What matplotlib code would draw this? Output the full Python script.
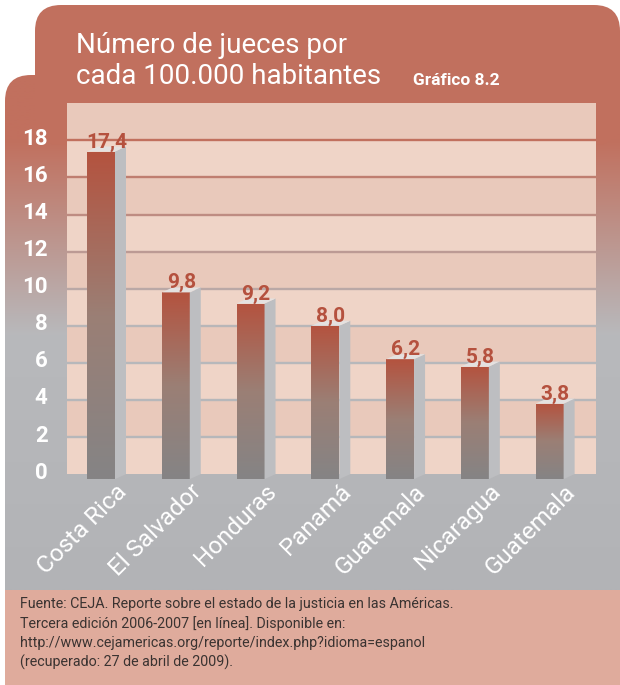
import numpy as np
import matplotlib
matplotlib.use('Agg')
import matplotlib.pyplot as plt
from matplotlib import font_manager
from matplotlib.patches import FancyBboxPatch, Polygon, Rectangle
from matplotlib.colors import LinearSegmentedColormap, to_rgb
from matplotlib.transforms import ScaledTranslation

# data
countries = ['Costa Rica', 'El Salvador', 'Honduras', 'Panamá',
             'Guatemala', 'Nicaragua', 'Guatemala']
jueces = [17.4, 9.8, 9.2, 8.0, 6.2, 5.8, 3.8]
value_labels = ['17,4', '9,8', '9,2', '8,0', '6,2', '5,8', '3,8']
y_ticks = [0, 2, 4, 6, 8, 10, 12, 14, 16, 18]

title_1 = 'Número de jueces por'
title_2 = 'cada 100.000 habitantes'
chart_id = 'Gráfico 8.2'
source = ('Fuente: CEJA. Reporte sobre el estado de la justicia en las Américas.\n'
          'Tercera edición 2006-2007 [en línea]. Disponible en:\n'
          'http://www.cejamericas.org/reporte/index.php?idioma=espanol\n'
          '(recuperado: 27 de abril de 2009).')

# fonts
names = {f.name for f in font_manager.fontManager.ttflist}
FONT = 'Liberation Sans Narrow' if 'Liberation Sans Narrow' in names else 'Roboto'
plt.rcParams['font.family'] = [FONT, 'DejaVu Sans']

# colours
TERRA = np.array(to_rgb('#c1705e'))
GRAY = np.array(to_rgb('#b8b9bc'))
GRAY_LOW = np.array(to_rgb('#b2b3b6'))
BAND_LIGHT = '#efd4c7'
BAND_DARK = '#e9c9bb'
SIDE = '#bdbec1'
TOP = '#e4e1e0'
LABEL_RED = '#b5513e'
bar_cmap = LinearSegmentedColormap.from_list('bar', ['#858485', '#9b7f75', '#b4533f'])

W, H = 620, 685


def panel_color(y):
    # background gradient, pixel y measured from the top
    t = np.clip((y - 140) / (335 - 140), 0, 1)
    c = TERRA * (1 - t) + GRAY * t
    s = np.clip((y - 335) / (590 - 335), 0, 1)
    return c * (1 - s) + GRAY_LOW * s


fig = plt.figure(figsize=(W / 100, H / 100), dpi=100)
fig.patch.set_facecolor('white')

# background shapes in pixel coords
bg = fig.add_axes([0, 0, 1, 1])
bg.set_xlim(0, W)
bg.set_ylim(H, 0)
bg.axis('off')

tab = FancyBboxPatch((35, 5), 585, 140, boxstyle='round,pad=0,rounding_size=26',
                     facecolor=TERRA, edgecolor='none')
bg.add_patch(tab)
panel = FancyBboxPatch((5, 75), 615, 560, boxstyle='round,pad=0,rounding_size=26',
                       facecolor='none', edgecolor='none')
bg.add_patch(panel)
ys = np.linspace(75, 590, 300)
grad = np.array([panel_color(y) for y in ys])[:, None, :]
im = bg.imshow(grad, extent=(5, 620, 590, 75), aspect='auto', interpolation='bilinear')
im.set_clip_path(panel)
bg.add_patch(Rectangle((5, 590), 615, 95, facecolor='#dfab9c', edgecolor='none'))
bg.set_xlim(0, W)
bg.set_ylim(H, 0)

bg.text(76, 53, title_1, color='white', fontsize=20, va='baseline', ha='left')
bg.text(76, 84, title_2, color='white', fontsize=20, va='baseline', ha='left')
bg.text(413, 85, chart_id, color='white', fontsize=12.5, fontweight='bold',
        va='baseline', ha='left')
bg.text(20, 597, source, color='#3a3331', fontsize=10.3, va='top', ha='left',
        linespacing=1.42)

# chart axes
px_unit = 18.54
y_min, y_max = -0.4, 20
ax_top = 103.3
ax_h = (y_max - y_min) * px_unit
ax = fig.add_axes([67 / W, (H - ax_top - ax_h) / H, 529 / W, ax_h / H])
ax.patch.set_visible(False)
ax.set_xlim(-0.455, 6.62)
ax.set_ylim(y_min, y_max)
for s in ax.spines.values():
    s.set_visible(False)

for k in range(10):
    ax.axhspan(2 * k, 2 * k + 2, facecolor=BAND_LIGHT if k % 2 == 0 else BAND_DARK,
               edgecolor='none', zorder=0)
for v in y_ticks[1:]:
    ax.axhline(v, color=panel_color(474 - v * px_unit), lw=1.7, zorder=1)

x = np.arange(len(jueces))
bw = 0.374
base = -0.27
dx, dy = 11 / 74.8, 5 / px_unit
bars = ax.bar(x, np.array(jueces) - base, bottom=base, width=bw,
              color='none', edgecolor='none', zorder=3)
g = np.linspace(0, 1, 200)[:, None]
for i, b in enumerate(bars):
    x0, x1 = b.get_x(), b.get_x() + b.get_width()
    y0, y1 = base, jueces[i]
    img = ax.imshow(g, extent=(x0, x1, y0, y1), origin='lower', aspect='auto',
                    cmap=bar_cmap, zorder=3, interpolation='bilinear')
    img.set_clip_path(b)
    ax.add_patch(Polygon([(x1, y0), (x1 + dx, y0 + dy), (x1 + dx, y1 + dy), (x1, y1)],
                         closed=True, facecolor=SIDE, edgecolor='none', zorder=3))
    ax.add_patch(Polygon([(x0, y1), (x1, y1), (x1 + dx, y1 + dy), (x0 + dx, y1 + dy)],
                         closed=True, facecolor=TOP, edgecolor='none', zorder=3))
    ax.text(x[i] + dx / 2, y1 + 0.22, value_labels[i], ha='center', va='baseline',
            color=LABEL_RED, fontsize=15, fontweight='bold', zorder=4)
ax.set_xlim(-0.455, 6.62)
ax.set_ylim(y_min, y_max)

ax.set_yticks(y_ticks)
ax.set_yticklabels([str(t) for t in y_ticks])
ax.tick_params(axis='y', length=0, pad=14, labelcolor='white', labelsize=16)
for lbl in ax.get_yticklabels():
    lbl.set_fontweight('bold')
    lbl.set_transform(lbl.get_transform() + ScaledTranslation(0, 4 / 100, fig.dpi_scale_trans))

ax.set_xticks(x)
ax.set_xticklabels(countries, rotation=45, ha='right', va='center', rotation_mode='anchor')
ax.tick_params(axis='x', length=0, pad=2, labelcolor='white', labelsize=17.5)
for lbl in ax.get_xticklabels():
    lbl.set_transform(lbl.get_transform() + ScaledTranslation(22 / 100, -4 / 100, fig.dpi_scale_trans))

fig.savefig('out.png', dpi=100)
